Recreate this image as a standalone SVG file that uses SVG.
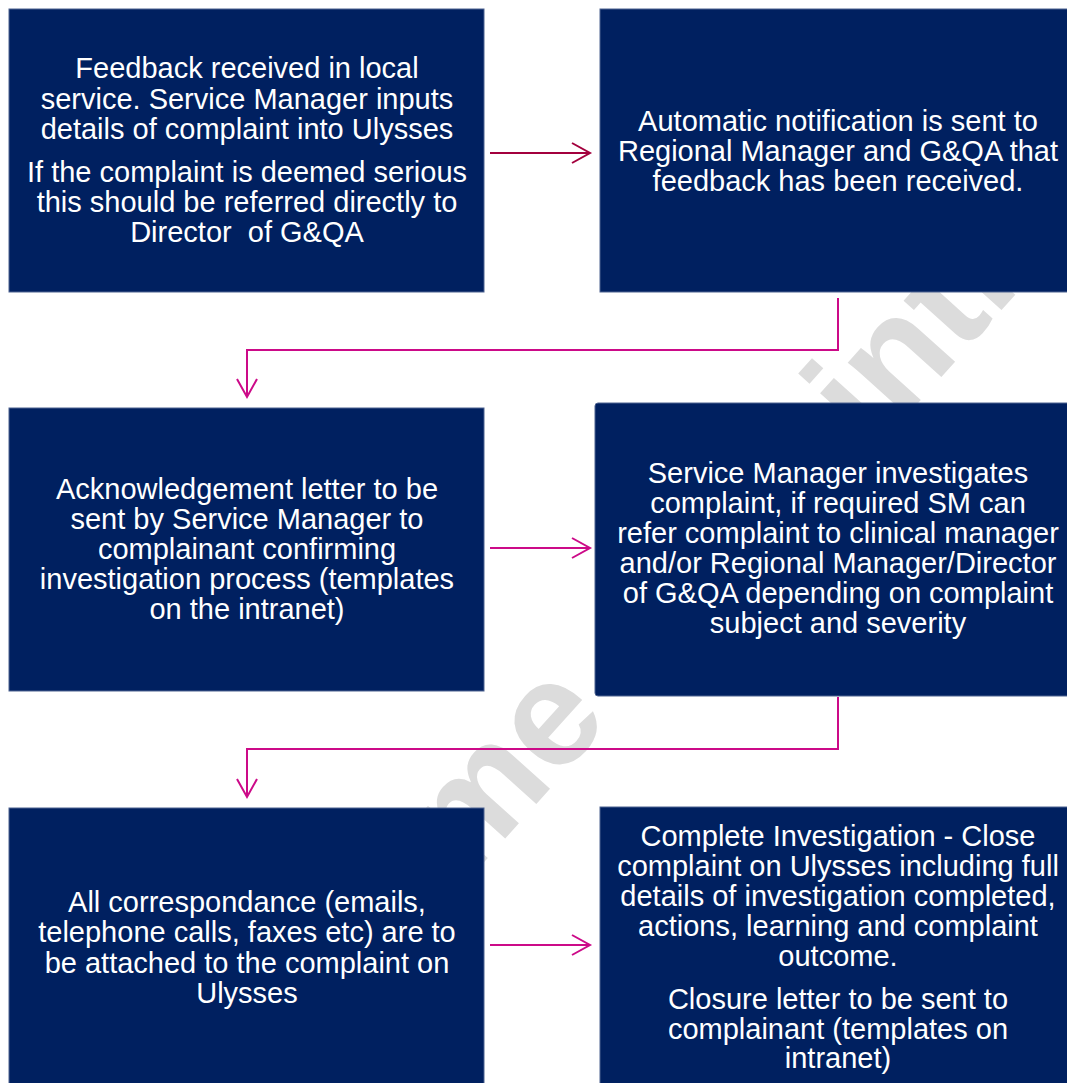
<svg xmlns="http://www.w3.org/2000/svg" width="1067" height="1083" viewBox="0 0 1067 1083">
<defs>
<style>
.box{fill:#002060;stroke:#4d6290;stroke-width:1}
.t{font-family:"Liberation Sans",Arial,sans-serif;font-size:29px;fill:#ffffff;text-anchor:middle}
.wm{font-family:"Liberation Sans",Arial,sans-serif;font-size:150px;font-weight:bold;fill:#dcdcdc}
.c1{fill:none;stroke:#A3003D;stroke-width:2}
.c2{fill:none;stroke:#CC0A88;stroke-width:2}
</style>
</defs>
<rect width="1067" height="1083" fill="#ffffff"/>
<g id="watermark">
<text class="wm" transform="translate(467,881) rotate(-48)">me</text>
<text class="wm" transform="translate(872,454) rotate(-48)">intr</text>
</g>
<g id="connectors">
<polyline class="c1" points="490,153 590,153"/>
<polyline class="c1" points="572,143 590,153 572,163"/>
<polyline class="c2" points="838,298 838,350 247,350 247,396"/>
<polyline class="c2" points="237,379 247,397 257,379"/>
<polyline class="c2" points="490,548 590,548"/>
<polyline class="c2" points="572,538 590,548 572,558"/>
<polyline class="c2" points="838,697 838,749 247,749 247,796"/>
<polyline class="c2" points="237,779 247,797 257,779"/>
<polyline class="c2" points="490,945 590,945"/>
<polyline class="c2" points="572,935 590,945 572,955"/>
</g>
<g id="node1">
<rect class="box" x="9" y="9" width="475" height="283"/>
<text class="t"><tspan x="247" y="78">Feedback received in local</tspan><tspan x="247" y="108.5">service. Service Manager inputs</tspan><tspan x="247" y="139">details of complaint into Ulysses</tspan><tspan x="247" y="182">If the complaint is deemed serious</tspan><tspan x="247" y="212">this should be referred directly to</tspan><tspan x="247" y="242" xml:space="preserve">Director  of G&amp;QA</tspan></text>
</g>
<g id="node2">
<rect class="box" x="600" y="9" width="476" height="283"/>
<text class="t"><tspan x="838" y="131">Automatic notification is sent to</tspan><tspan x="838" y="161">Regional Manager and G&amp;QA that</tspan><tspan x="838" y="191">feedback has been received.</tspan></text>
</g>
<g id="node3">
<rect class="box" x="9" y="408" width="475" height="283"/>
<text class="t"><tspan x="247" y="499">Acknowledgement letter to be</tspan><tspan x="247" y="529">sent by Service Manager to</tspan><tspan x="247" y="559">complainant confirming</tspan><tspan x="247" y="589">investigation process (templates</tspan><tspan x="247" y="619">on the intranet)</tspan></text>
</g>
<g id="node4">
<rect class="box" x="595" y="403" width="486" height="293" rx="3"/>
<text class="t"><tspan x="838" y="483">Service Manager investigates</tspan><tspan x="838" y="513">complaint, if required SM can</tspan><tspan x="838" y="543">refer complaint to clinical manager</tspan><tspan x="838" y="573">and/or Regional Manager/Director</tspan><tspan x="838" y="603">of G&amp;QA depending on complaint</tspan><tspan x="838" y="633">subject and severity</tspan></text>
</g>
<g id="node5">
<rect class="box" x="9" y="808" width="475" height="285"/>
<text class="t"><tspan x="247" y="912">All correspondance (emails,</tspan><tspan x="247" y="942">telephone calls, faxes etc) are to</tspan><tspan x="247" y="973">be attached to the complaint on</tspan><tspan x="247" y="1003">Ulysses</tspan></text>
</g>
<g id="node6">
<rect class="box" x="600" y="807" width="476" height="286"/>
<text class="t"><tspan x="838" y="846">Complete Investigation - Close</tspan><tspan x="838" y="876">complaint on Ulysses including full</tspan><tspan x="838" y="906">details of investigation completed,</tspan><tspan x="838" y="936">actions, learning and complaint</tspan><tspan x="838" y="966">outcome.</tspan><tspan x="838" y="1009">Closure letter to be sent to</tspan><tspan x="838" y="1039">complainant (templates on</tspan><tspan x="838" y="1068">intranet)</tspan></text>
</g>
</svg>
